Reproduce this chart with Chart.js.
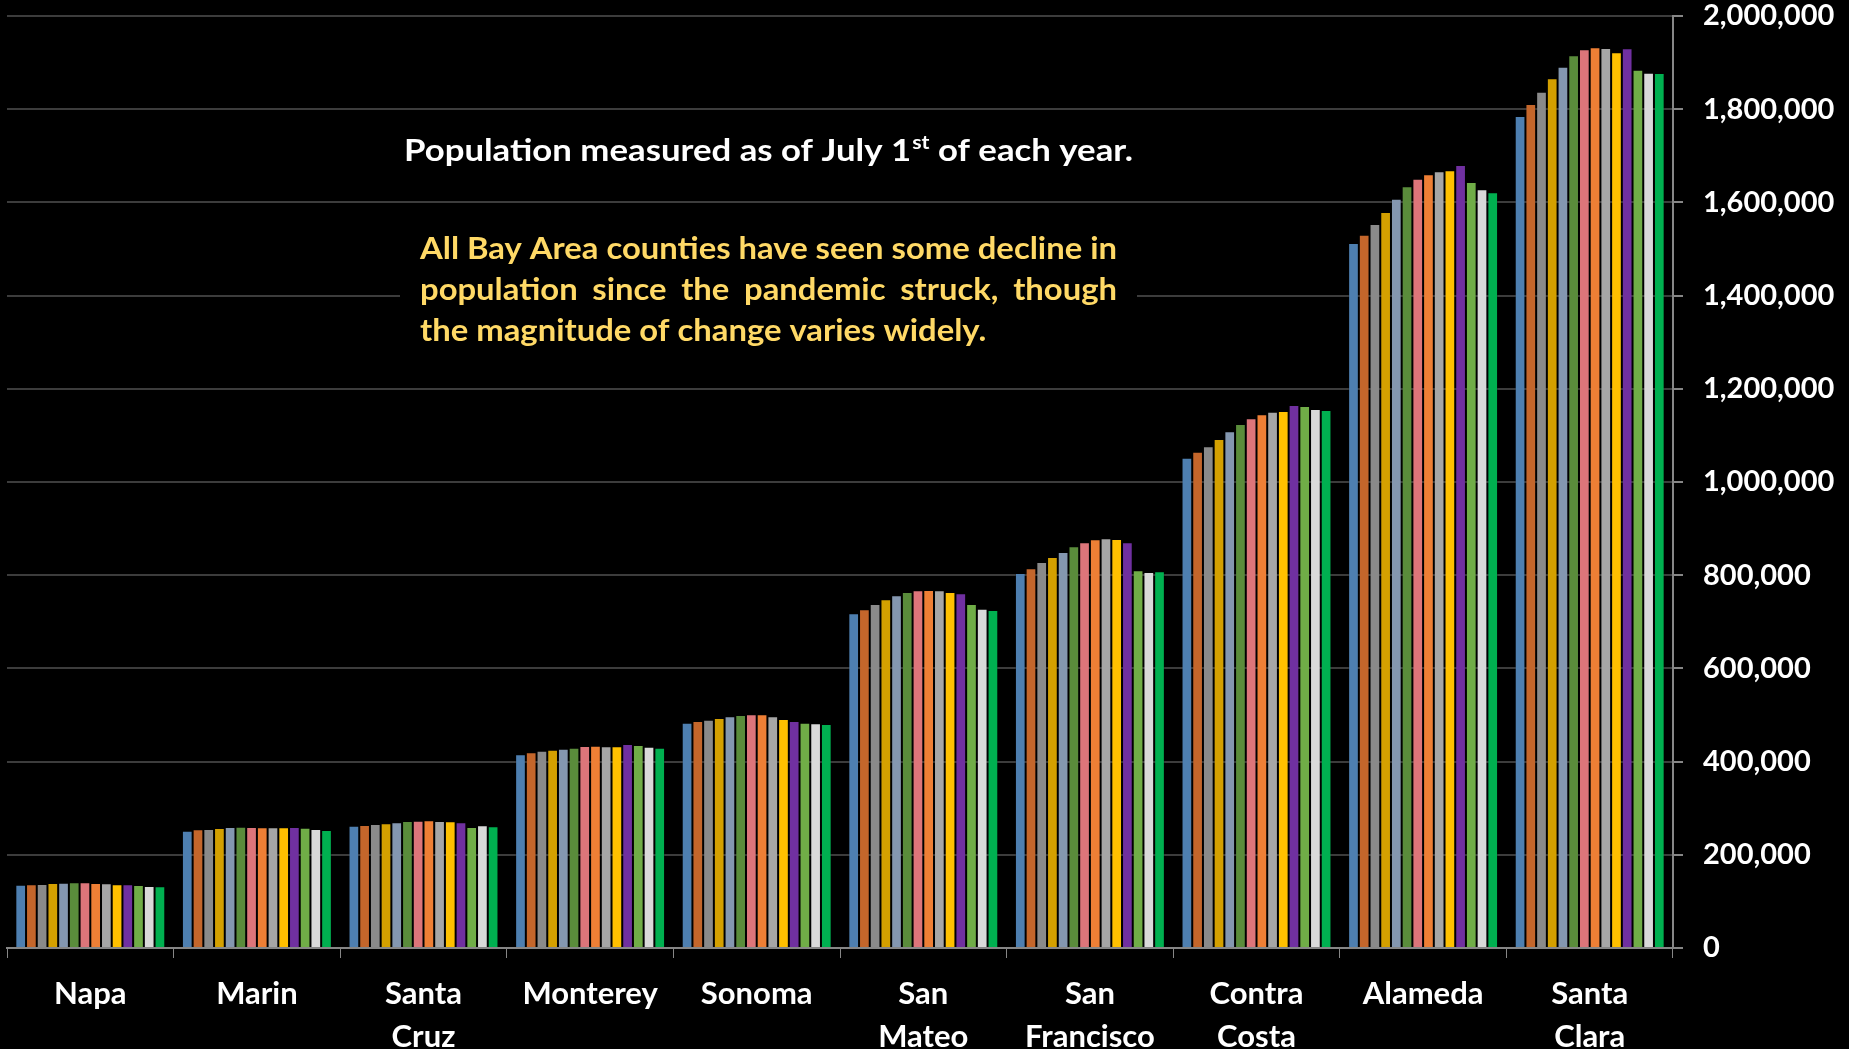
<!DOCTYPE html>
<html>
<head>
<meta charset="utf-8">
<title>Bay Area county population</title>
<script src="https://cdn.jsdelivr.net/npm/chart.js@4.4.1/dist/chart.umd.min.js"></script>
<style>
    html, body { margin: 0; padding: 0; background: #000; }
    #wrap { width: 1849px; height: 1049px; position: relative; }
</style>
</head>
<body>
<div id="wrap"><canvas id="popChart"></canvas></div>
<script>
// counties, smallest to largest
const counties = [
    "Napa", "Marin", ["Santa", "Cruz"], "Monterey", "Sonoma",
    ["San", "Mateo"], ["San", "Francisco"], ["Contra", "Costa"], "Alameda", ["Santa", "Clara"]
];

const years = ["2010", "2011", "2012", "2013", "2014", "2015", "2016",
               "2017", "2018", "2019", "2020", "2021", "2022", "2023"];

const yearColors = ["#4e7fb0", "#c4662b", "#8a8a8a", "#d4a000", "#8497b0", "#5a8c3b", "#dd757a",
                    "#ee7f35", "#a6a6a6", "#ffc000", "#7030a0", "#70ad47", "#d9d9d9", "#00b050"];

// population per county, one list per county (2010 .. 2023)
const napa         = [135900, 136600, 137300, 139500, 140200, 140900, 140900, 139500, 138800, 136600, 136600, 135200, 133000, 132400];
const marin        = [251800, 254700, 255400, 257500, 259700, 260400, 259700, 259000, 259000, 259000, 259700, 258200, 255400, 253200];
const santaCruz    = [262500, 264000, 266100, 267500, 269700, 272500, 273300, 274000, 272500, 271800, 269700, 259700, 263200, 261100];
const monterey     = [415600, 419900, 423500, 425600, 427800, 429900, 433500, 434200, 432800, 432800, 437800, 435600, 432100, 429900];
const sonoma       = [483600, 487100, 490000, 493600, 497200, 500000, 501500, 501500, 497200, 491400, 487100, 483600, 482100, 480700];
const sanMateo     = [718500, 726900, 738200, 748200, 756800, 764000, 767500, 768300, 767500, 764000, 761100, 738200, 728200, 725500];
const sanFrancisco = [804800, 814800, 828400, 839100, 849800, 862000, 870600, 877000, 879200, 877700, 870600, 810500, 806900, 808300];
const contraCosta  = [1052300, 1065100, 1076600, 1092300, 1108800, 1124500, 1136700, 1145300, 1151000, 1152400, 1165300, 1163100, 1156700, 1154500];
const alameda      = [1513000, 1530800, 1553700, 1579500, 1608100, 1634500, 1651000, 1660300, 1666700, 1668900, 1680300, 1643800, 1628100, 1621700];
const santaClara   = [1785500, 1811200, 1837700, 1866300, 1891300, 1915700, 1928500, 1932800, 1931400, 1922100, 1930700, 1884900, 1878400, 1877800];

const countyValues = [napa, marin, santaCruz, monterey, sonoma, sanMateo, sanFrancisco, contraCosta, alameda, santaClara];

const noteTitle = ["Population measured as of July 1", "st", " of each year."];
const noteLines = [
    "All Bay Area counties have seen some decline in",
    "population since the pandemic struck, though",
    "the magnitude of change varies widely."
];

// one dataset per year, values taken across the counties
let datasets = [];
years.forEach((year, i) => {
    datasets.push({
        label: year,
        data: countyValues.map(c => c[i]),
        backgroundColor: yearColors[i],
        borderColor: "rgba(0,0,0,0.22)",
        borderWidth: 1,
        categoryPercentage: 0.9,
        barPercentage: 1.0
    });
});

const FONT = "Lato, 'Open Sans', sans-serif";

// the two text notes on the chart
const notesPlugin = {
    id: "notes",
    afterDatasetsDraw(chart) {
        const ctx = chart.ctx;
        ctx.save();

        // title line, white, with superscript "st"
        ctx.fillStyle = "#ffffff";
        ctx.textBaseline = "alphabetic";
        ctx.textAlign = "left";
        const big = "bold 31px " + FONT;
        const small = "bold 19px " + FONT;
        ctx.font = big;
        let w1 = ctx.measureText(noteTitle[0]).width;
        let w3 = ctx.measureText(noteTitle[2]).width;
        ctx.font = small;
        let w2 = ctx.measureText(noteTitle[1]).width;
        let total = w1 + w2 + w3;
        let sx = 728 / total;
        ctx.translate(404, 161);
        ctx.scale(sx, 1);
        ctx.font = big;
        ctx.fillText(noteTitle[0], 0, 0);
        ctx.font = small;
        ctx.fillText(noteTitle[1], w1 + 1, -12);
        ctx.font = big;
        ctx.fillText(noteTitle[2], w1 + w2 + 1, 0);
        ctx.setTransform(1, 0, 0, 1, 0, 0);

        // black box behind the yellow note hides the grid line
        ctx.fillStyle = "#000000";
        ctx.fillRect(400, 224, 737, 126);

        ctx.fillStyle = "#ffd966";
        ctx.font = "bold 31px " + FONT;
        const boxW = 697;
        let spaceW = ctx.measureText(" ").width;
        let firstW = ctx.measureText(noteLines[0]).width;
        let s = boxW / firstW;
        const baselines = [259, 300, 341];
        noteLines.forEach((line, li) => {
            let words = line.split(" ");
            let wordsW = words.map(w => ctx.measureText(w).width);
            let sum = wordsW.reduce((a, b) => a + b, 0);
            let gap = spaceW;
            if (li < noteLines.length - 1) {
                gap = (boxW / s - sum) / (words.length - 1);
            }
            ctx.setTransform(s, 0, 0, 1, 420, baselines[li]);
            let x = 0;
            words.forEach((w, wi) => {
                ctx.fillText(w, x, 0);
                x += wordsW[wi] + gap;
            });
        });
        ctx.restore();
    }
};

new Chart(document.getElementById("popChart"), {
    type: "bar",
    data: {
        labels: counties,
        datasets: datasets
    },
    options: {
        responsive: true,
        maintainAspectRatio: false,
        animation: false,
        layout: { padding: { top: 16, left: 7, right: 0, bottom: 0 } },
        plugins: {
            legend: { display: false },
            tooltip: { enabled: false }
        },
        scales: {
            x: {
                grid: {
                    display: true,
                    drawOnChartArea: false,
                    drawTicks: true,
                    tickLength: 10,
                    color: "#868686",
                    offset: true
                },
                border: { display: true, color: "#868686", width: 2 },
                ticks: {
                    color: "#ffffff",
                    font: { family: FONT, size: 31, weight: "bold", lineHeight: 1.4 },
                    padding: 14,
                    maxRotation: 0,
                    autoSkip: false
                },
                afterFit(scale) {
                    scale.height = 101;
                    scale.paddingLeft = 0;
                    scale.paddingRight = 0;
                }
            },
            y: {
                position: "right",
                min: 0,
                max: 2000000,
                grid: {
                    color: "#3c3c3c",
                    tickColor: "#868686",
                    lineWidth: 2,
                    tickLength: 10
                },
                border: { display: true, color: "#868686", width: 2 },
                ticks: {
                    stepSize: 200000,
                    color: "#ffffff",
                    padding: 20,
                    font: { family: FONT, size: 29, weight: "bold" },
                    callback: v => v.toLocaleString("en-US")
                },
                afterFit(scale) {
                    scale.width = 176;
                    scale.paddingTop = 0;
                    scale.paddingBottom = 0;
                }
            }
        }
    },
    plugins: [notesPlugin]
});
</script>
</body>
</html>
